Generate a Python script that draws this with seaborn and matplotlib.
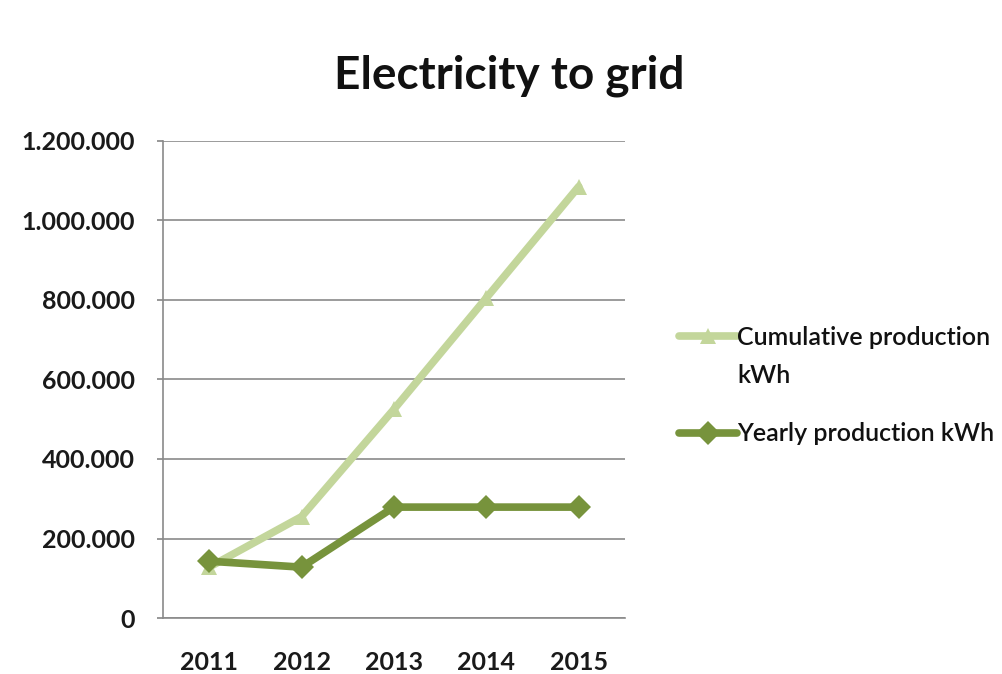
import matplotlib
matplotlib.use("Agg")
import matplotlib.pyplot as plt
import pandas as pd
import seaborn as sns
from matplotlib.ticker import FuncFormatter

# ---------------------------------------------------------------------------
# Data
# ---------------------------------------------------------------------------
years = [2011, 2012, 2013, 2014, 2015]
cumulative_kwh = [128000, 255000, 525000, 805000, 1085000]
yearly_kwh = [143000, 128000, 279000, 279000, 279000]

series_names = ["Cumulative production", "Yearly production kWh"]
series_colors = ["#c3d69b", "#77933c"]
y_ticks = [0, 200000, 400000, 600000, 800000, 1000000, 1200000]

df = pd.DataFrame({
    "year": years * 2,
    "kwh": cumulative_kwh + yearly_kwh,
    "series": [series_names[0]] * len(years) + [series_names[1]] * len(years),
})

sns.set_theme(style="white")
plt.rcParams["font.family"] = ["Lato", "DejaVu Sans"]

fig = plt.figure(figsize=(10.03, 6.74), dpi=100)
ax = fig.add_axes([0.1625, 0.083, 0.4605, 0.708])

sns.lineplot(
    data=df, x="year", y="kwh", hue="series", style="series",
    palette=dict(zip(series_names, series_colors)),
    markers={series_names[0]: "^", series_names[1]: "D"},
    dashes=False, linewidth=5.5, markersize=12, markeredgewidth=0,
    ax=ax,
)

ax.set_xlim(2010.5, 2015.5)
ax.set_ylim(0, 1200000)
ax.set_xticks(years)
ax.set_xticklabels([str(y) for y in years])
ax.set_yticks(y_ticks)
ax.yaxis.set_major_formatter(
    FuncFormatter(lambda v, _: "0" if v == 0 else f"{int(v):,}".replace(",", "."))
)
ax.set_xlabel("")
ax.set_ylabel("")

ax.grid(axis="y", color="#8a8a8a", linewidth=1.2)
ax.set_axisbelow(True)
for side in ["top", "right"]:
    ax.spines[side].set_visible(False)
for side in ["left", "bottom"]:
    ax.spines[side].set_color("#8a8a8a")
    ax.spines[side].set_linewidth(1.2)

ax.tick_params(axis="y", left=True, length=4, color="#8a8a8a", pad=16,
               labelsize=18, labelcolor="#1a1a1a")
ax.tick_params(axis="x", bottom=False, pad=18, labelsize=18, labelcolor="#1a1a1a")
for lab in ax.get_xticklabels() + ax.get_yticklabels():
    lab.set_fontweight("bold")

fig.text(0.508, 0.888, "Electricity to grid", ha="center", va="center",
         fontsize=33, fontweight="bold", color="#111111")

# legend: first entry wraps onto a second line ("kWh") like the original
handles, labels = ax.get_legend_handles_labels()
leg = ax.legend(handles, labels, loc="center left", bbox_to_anchor=(0.655, 0.428),
                bbox_transform=fig.transFigure, frameon=False, fontsize=18,
                handlelength=2.3, handletextpad=0.0, labelspacing=2.95)
for txt in leg.get_texts():
    txt.set_color("#111111")
    txt.set_fontweight("semibold")

fig.canvas.draw()
first = leg.get_texts()[0].get_window_extent().transformed(fig.transFigure.inverted())
fig.text(first.x0, first.y0 - 0.057, "kWh", ha="left", va="bottom",
         fontsize=18, fontweight="semibold", color="#111111")

fig.savefig("out.png", dpi=100)
